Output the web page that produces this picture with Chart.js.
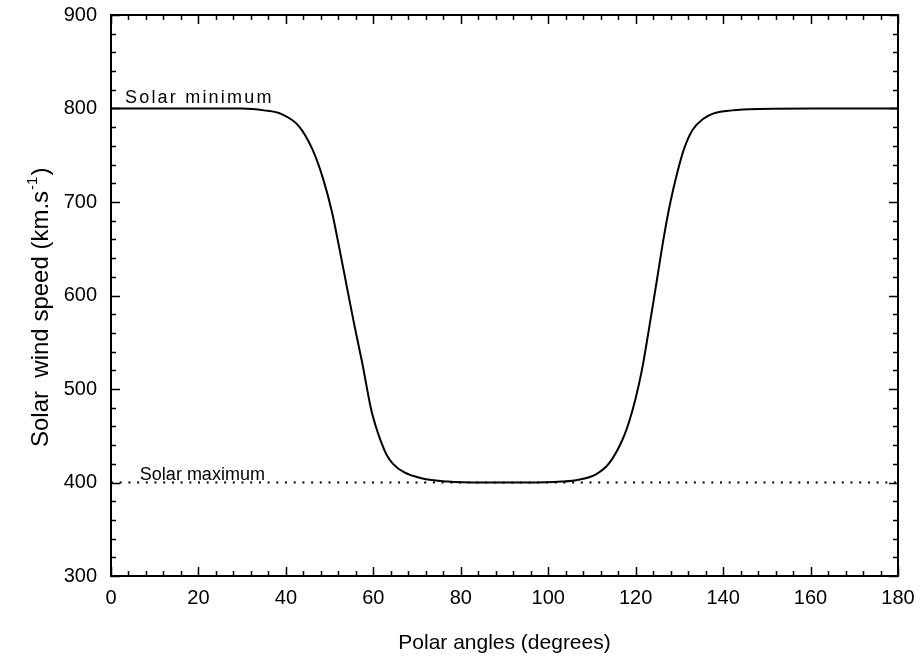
<!DOCTYPE html>
<html lang="en">
<head>
  <meta charset="UTF-8">
  <title>Solar wind speed vs polar angle</title>
  <script src="https://cdn.jsdelivr.net/npm/chart.js"></script>
  <style>
    html, body { margin: 0; padding: 0; background: #fff; }
    #wrap { width: 920px; height: 663px; }
  </style>
</head>
<body>
  <div id="wrap"><canvas id="windChart" width="920" height="663"></canvas></div>

  <script>
    // values
    const minAngles = [0, 10, 20, 30, 35, 39, 43, 46, 48.5, 50.5, 52, 53.5, 55.5, 57.5, 59.5, 60.5, 61.5, 63, 64.5, 67, 71, 77, 85,
                       95, 103, 107, 111, 114, 117, 118.5, 120, 121.5, 123, 124.5, 126.5, 128, 129.5, 131, 133, 135.5, 138, 142, 148, 160, 170, 180];
    const minSpeeds = [800, 800, 800, 800, 798, 794, 781, 757, 725, 690, 656, 620, 572, 527, 478, 461, 447, 430, 420, 411, 404.5, 401, 400,
                       400, 401, 403, 409, 421, 446, 465, 490, 522, 563, 606, 664, 701, 731, 756, 777, 789, 795, 798, 799.5, 800, 800, 800];
    const maxAngles = [0, 180];
    const maxSpeeds = [400, 400];
    const xTicks = [0, 20, 40, 60, 80, 100, 120, 140, 160, 180];
    const yTicks = [300, 400, 500, 600, 700, 800, 900];

    const FONT = '"Liberation Sans", Arial, sans-serif';

    function toPoints(xs, ys) {
      return xs.map((x, i) => ({ x: x, y: ys[i] }));
    }

    // frame, inward ticks, y title with superscript and the two text labels
    const framePlugin = {
      id: 'frame',
      afterDraw(chart) {
        const ctx = chart.ctx;
        const a = chart.chartArea;
        const xs = chart.scales.x, ys = chart.scales.y;
        ctx.save();
        ctx.strokeStyle = '#000';
        ctx.lineWidth = 2;
        ctx.strokeRect(a.left, a.top, a.right - a.left, a.bottom - a.top);

        ctx.lineWidth = 1.5;
        ctx.beginPath();
        for (let v = xTicks[0]; v <= xTicks[xTicks.length - 1]; v += 4) {
          const len = v % 20 === 0 ? 9 : 5;
          const px = Math.round(xs.getPixelForValue(v)) + 0.5;
          ctx.moveTo(px, a.bottom); ctx.lineTo(px, a.bottom - len);
          ctx.moveTo(px, a.top); ctx.lineTo(px, a.top + len);
        }
        for (let v = yTicks[0]; v <= yTicks[yTicks.length - 1]; v += 20) {
          const len = v % 100 === 0 ? 9 : 5;
          const py = Math.round(ys.getPixelForValue(v)) + 0.5;
          ctx.moveTo(a.left, py); ctx.lineTo(a.left + len, py);
          ctx.moveTo(a.right, py); ctx.lineTo(a.right - len, py);
        }
        ctx.stroke();

        ctx.fillStyle = '#000';
        ctx.textBaseline = 'alphabetic';
        ctx.textAlign = 'left';

        // y axis title
        ctx.save();
        ctx.translate(48, 447);
        ctx.rotate(-Math.PI / 2);
        ctx.font = '24px ' + FONT;
        const main = 'Solar  wind speed (km.s';
        ctx.fillText(main, 0, 0);
        let w = ctx.measureText(main).width;
        ctx.font = '15px ' + FONT;
        ctx.fillText('-1', w + 1, -11);
        w += ctx.measureText('-1').width + 2;
        ctx.font = '24px ' + FONT;
        ctx.fillText(')', w, 0);
        ctx.restore();

        ctx.font = '18px ' + FONT;
        ctx.letterSpacing = '2.2px';
        ctx.fillText('Solar minimum', xs.getPixelForValue(3.2), ys.getPixelForValue(800) - 6);
        ctx.letterSpacing = '0px';
        ctx.fillText('Solar maximum', xs.getPixelForValue(6.6), ys.getPixelForValue(400) - 3);
        ctx.restore();
      }
    };

    new Chart(document.getElementById('windChart').getContext('2d'), {
      type: 'line',
      data: {
        datasets: [
          {
            label: 'Solar minimum',
            data: toPoints(minAngles, minSpeeds),
            borderColor: '#000',
            borderWidth: 2,
            pointRadius: 0,
            cubicInterpolationMode: 'monotone',
            fill: false
          },
          {
            label: 'Solar maximum',
            data: toPoints(maxAngles, maxSpeeds),
            borderColor: '#000',
            borderWidth: 2.2,
            borderDash: [2, 6.7],
            pointRadius: 0,
            fill: false
          }
        ]
      },
      plugins: [framePlugin],
      options: {
        responsive: false,
        animation: false,
        layout: { padding: { top: 15, right: 22, bottom: 0, left: 0 } },
        plugins: {
          legend: { display: false },
          tooltip: { enabled: false }
        },
        scales: {
          x: {
            type: 'linear',
            min: 0,
            max: 180,
            afterFit: s => { s.height = 87; s.paddingLeft = 0; s.paddingRight = 0; },
            afterBuildTicks: s => { s.ticks = xTicks.map(v => ({ value: v })); },
            grid: { display: false, drawTicks: false },
            border: { display: false },
            ticks: { color: '#000', padding: 10, font: { family: FONT, size: 20 } },
            title: {
              display: true,
              text: 'Polar angles (degrees)',
              color: '#000',
              font: { family: FONT, size: 21 },
              padding: { top: 0, bottom: 7 }
            }
          },
          y: {
            type: 'linear',
            min: 300,
            max: 900,
            afterFit: s => { s.width = 111; s.paddingTop = 0; s.paddingBottom = 0; },
            afterBuildTicks: s => { s.ticks = yTicks.map(v => ({ value: v })); },
            grid: { display: false, drawTicks: false },
            border: { display: false },
            ticks: { color: '#000', padding: 14, font: { family: FONT, size: 20 } },
            title: { display: false }
          }
        }
      }
    });
  </script>
</body>
</html>
